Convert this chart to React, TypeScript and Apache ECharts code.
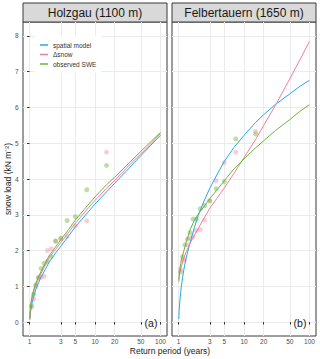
import React, { useEffect, useRef } from "react";
import * as echarts from "echarts";

// ---- data ----
const stations = ["Holzgau (1100 m)", "Felbertauern (1650 m)"];
const panelTags = ["(a)", "(b)"];
const seriesNames = ["spatial model", "Δsnow", "observed SWE"];
const returnPeriodTicks = [1, 3, 5, 10, 20, 50, 100];
const snowLoadTicks = [0, 1, 2, 3, 4, 5, 6, 7, 8];

// return periods at which the fitted curves are read
const curveT = [1.01, 1.02, 1.05, 1.1, 1.2, 1.3, 1.5, 1.75, 2, 2.5, 3, 4, 5, 7, 10, 15, 20, 30, 50, 70, 100];
// Holzgau curves
const holzSpatial = [0.07, 0.2, 0.35, 0.55, 0.82, 1.0, 1.26, 1.48, 1.68, 1.93, 2.12, 2.42, 2.66, 2.97, 3.3, 3.64, 3.88, 4.22, 4.65, 4.93, 5.22];
const holzDsnow = [0.08, 0.25, 0.5, 0.7, 0.95, 1.12, 1.36, 1.6, 1.8, 2.03, 2.22, 2.52, 2.76, 3.08, 3.4, 3.74, 3.96, 4.3, 4.7, 4.97, 5.27];
const holzSWE = [0.1, 0.3, 0.55, 0.75, 1.0, 1.17, 1.42, 1.66, 1.86, 2.1, 2.3, 2.6, 2.85, 3.17, 3.5, 3.84, 4.05, 4.37, 4.77, 5.03, 5.3];
// Felbertauern curves
const felbSpatial = [0.08, 0.3, 0.62, 0.98, 1.45, 1.78, 2.22, 2.65, 2.98, 3.42, 3.74, 4.17, 4.49, 4.88, 5.22, 5.58, 5.8, 6.08, 6.38, 6.58, 6.76];
const felbDsnow = [1.2, 1.28, 1.4, 1.55, 1.78, 1.95, 2.2, 2.43, 2.62, 2.93, 3.18, 3.5, 3.75, 4.15, 4.6, 5.1, 5.5, 6.05, 6.8, 7.3, 7.85];
const felbSWE = [1.13, 1.28, 1.5, 1.72, 1.98, 2.22, 2.58, 2.85, 3.02, 3.25, 3.45, 3.73, 3.95, 4.28, 4.56, 4.87, 5.07, 5.35, 5.66, 5.88, 6.08];

// empirical return periods of the observed annual maxima
const obsT = [15, 7.5, 5, 3.75, 3, 2.5, 2.143, 1.875, 1.667, 1.5, 1.364, 1.25, 1.154, 1.071];
const holzObsDsnow = [4.75, 2.83, 2.69, 2.39, 2.34, 2.26, 2.05, 2.0, 1.28, 1.26, 1.23, 1.0, 0.64, 0.42];
const holzObsSWE = [4.38, 3.7, 2.95, 2.84, 2.34, 2.27, 1.83, 1.7, 1.64, 1.5, 1.25, 1.04, 0.78, 0.45];
const felbObsDsnow = [5.33, 4.75, 4.46, 3.95, 3.39, 2.85, 2.59, 2.56, 2.39, 2.35, 2.16, 1.74, 1.74, 1.48];
const felbObsSWE = [5.26, 5.12, 3.93, 3.73, 3.39, 3.26, 3.17, 2.88, 2.88, 2.5, 2.32, 2.16, 1.83, 1.4];

const colors = ["#26a9e6", "#ee7f9c", "#6db33f"];
const pointColors = ["rgba(0,0,0,0)", "rgba(241,150,178,0.6)", "rgba(118,186,72,0.6)"];

const curves = [
  [holzSpatial, holzDsnow, holzSWE],
  [felbSpatial, felbDsnow, felbSWE],
];
const points = [
  [null, holzObsDsnow, holzObsSWE],
  [null, felbObsDsnow, felbObsSWE],
];

const lg = (v: number) => Math.log10(v);

export default function App() {
  const ref = useRef<HTMLDivElement>(null);
  useEffect(() => {
    if (!ref.current) return;
    const chart = echarts.init(ref.current, undefined, { renderer: "svg" });
    const panelLeft = [23, 172];
    const panelW = 144;
    const top = 22;
    const height = 314;

    const grids = panelLeft.map((l) => ({
      left: l,
      top,
      width: panelW,
      height,
      show: true,
      borderColor: "#3a3a3a",
      borderWidth: 1,
      backgroundColor: "#fff",
    }));

    const xTickVals = returnPeriodTicks.map(lg);
    const xAxes = panelLeft.map((_, i) => ({
      type: "value",
      gridIndex: i,
      min: -0.1,
      max: 2.1,
      axisLine: { show: false },
      axisTick: { show: true, length: 2.5, customValues: xTickVals, lineStyle: { color: "#333", width: 1 } },
      axisLabel: {
        customValues: xTickVals,
        margin: 2,
        fontSize: 6.5,
        color: "#4d4d4d",
        fontFamily: "Liberation Sans, Arial, sans-serif",
        formatter: (v: number) => String(Math.round(Math.pow(10, v))),
      },
      splitLine: { show: true, lineStyle: { color: "#ebebeb", width: 1 } },
    }));
    const yAxes = panelLeft.map((_, i) => ({
      type: "value",
      gridIndex: i,
      min: -0.39,
      max: 8.39,
      axisLine: { show: false },
      axisTick: { show: i === 0, length: 2.5, customValues: snowLoadTicks, lineStyle: { color: "#333", width: 1 } },
      axisLabel: {
        show: i === 0,
        customValues: snowLoadTicks,
        margin: 4.5,
        fontSize: 6.5,
        color: "#4d4d4d",
        fontFamily: "Liberation Sans, Arial, sans-serif",
      },
      splitLine: { show: true, lineStyle: { color: "#ebebeb", width: 1 } },
    }));

    const series: any[] = [];
    [0, 1].forEach((p) => {
      [1, 2].forEach((k) => {
        const vals = points[p][k] as number[];
        series.push({
          type: "scatter",
          name: seriesNames[k] + " obs " + p,
          xAxisIndex: p,
          yAxisIndex: p,
          symbolSize: 5,
          itemStyle: { color: pointColors[k] },
          data: obsT.map((t, j) => [lg(t), vals[j]]),
          z: 2,
        });
      });
      [0, 1, 2].forEach((k) => {
        const vals = curves[p][k];
        series.push({
          type: "line",
          name: seriesNames[k],
          xAxisIndex: p,
          yAxisIndex: p,
          showSymbol: false,
          smooth: false,
          lineStyle: { color: colors[k], width: 1 },
          itemStyle: { color: colors[k] },
          data: curveT.map((t, j) => [lg(t), vals[j]]),
          z: 3,
        });
      });
    });

    const graphics: any[] = [];
    panelLeft.forEach((l, i) => {
      graphics.push({
        type: "rect",
        shape: { x: l, y: 3, width: panelW, height: 19 },
        style: { fill: "#d9d9d9", stroke: "#3a3a3a", lineWidth: 1 },
      });
      graphics.push({
        type: "text",
        x: l + panelW / 2,
        y: 12.8,
        style: {
          text: stations[i],
          fontSize: 12,
          fontFamily: "Liberation Sans, Arial, sans-serif",
          fill: "#1a1a1a",
          align: "center",
          verticalAlign: "middle",
        },
      });
      graphics.push({
        type: "text",
        x: l + panelW - 16,
        y: 323,
        z: 10,
        style: {
          text: panelTags[i],
          fontSize: 10.5,
          fontFamily: "Liberation Sans, Arial, sans-serif",
          fill: "#1a1a1a",
          align: "center",
          verticalAlign: "middle",
        },
      });
    });
    graphics.push({
      type: "text",
      x: 170,
      y: 351,
      style: {
        text: "Return period (years)",
        fontSize: 8.5,
        fontFamily: "Liberation Sans, Arial, sans-serif",
        fill: "#1a1a1a",
        align: "center",
        verticalAlign: "middle",
      },
    });
    graphics.push({
      type: "text",
      x: 8,
      y: 179,
      rotation: Math.PI / 2,
      style: {
        text: "snow load (kN m⁻²)",
        fontSize: 8.5,
        fontFamily: "Liberation Sans, Arial, sans-serif",
        fill: "#1a1a1a",
        align: "center",
        verticalAlign: "middle",
      },
    });

    chart.setOption({
      animation: false,
      backgroundColor: "#fff",
      grid: grids,
      xAxis: xAxes,
      yAxis: yAxes,
      legend: {
        data: seriesNames.map((n, k) => ({ name: n, itemStyle: { color: colors[k] } })),
        orient: "vertical",
        left: 35,
        top: 36,
        backgroundColor: "#fff",
        padding: [5, 5, 5, 5],
        icon: "rect",
        itemWidth: 8,
        itemHeight: 1.5,
        itemGap: 1.5,
        selectedMode: false,
        textStyle: {
          fontSize: 6.5,
          lineHeight: 8,
          color: "#333",
          fontFamily: "Liberation Sans, Arial, sans-serif",
        },
      },
      graphic: graphics,
      series,
    });
    return () => chart.dispose();
  }, []);
  return (
    <div
      ref={ref}
      style={{ position: "fixed", left: 0, top: 0, width: 320, height: 359, background: "#fff" }}
    />
  );
}
